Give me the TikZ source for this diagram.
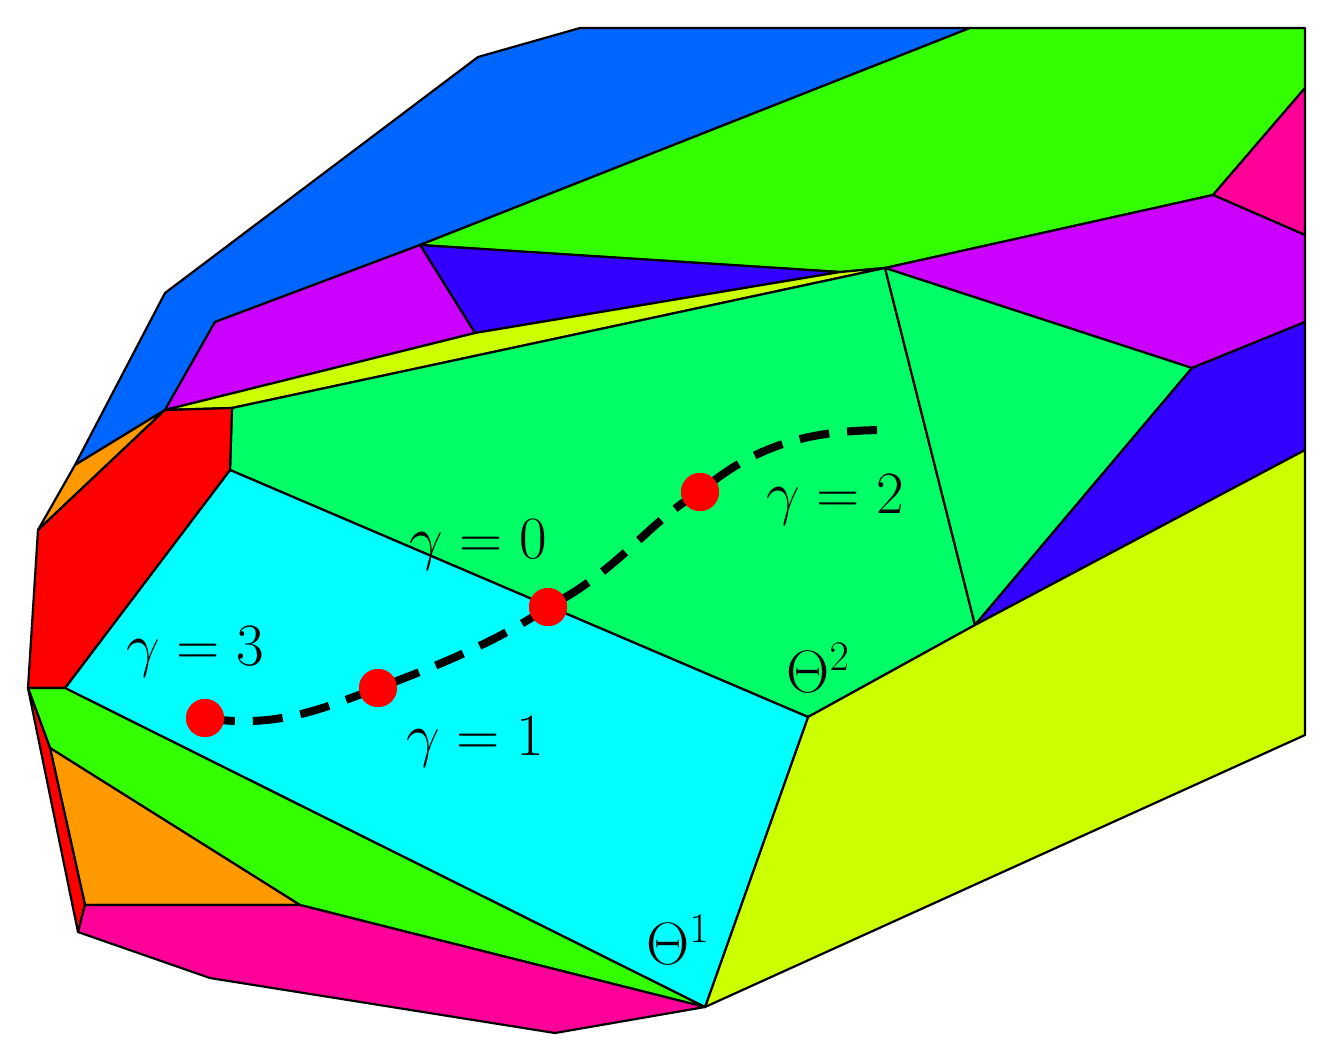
\RequirePackage{fix-cm}
\documentclass[tikz,border=0pt]{standalone}
\usepackage{amsmath}
\begin{document}
\begin{tikzpicture}[x=1pt,y=-1pt,line join=round,
  face/.style={draw=black,line width=2.2pt},
  dot/.style={circle,fill=red,inner sep=0pt,minimum size=38pt},
  lab/.style={font=\fontsize{60}{64}\selectfont,inner sep=0pt}]
\useasboundingbox (0,0) rectangle (1338,1058);
\definecolor{cblue}{HTML}{0066FF}\definecolor{cgreen}{HTML}{33FF00}
\definecolor{cpurple}{HTML}{CC00FF}\definecolor{cdblue}{HTML}{3300FF}
\definecolor{cpink}{HTML}{FF0099}\definecolor{cyel}{HTML}{CCFF00}
\definecolor{cspring}{HTML}{00FF66}\definecolor{ccyan}{HTML}{00FFFF}
\definecolor{corange}{HTML}{FF9900}\definecolor{cred}{HTML}{FF0000}
% top
\fill[cblue,face] (75,465)--(165,293)--(478,57)--(580,28)--(970,28)--(420,245)--(215,322)--(165,410)--cycle;
\fill[cgreen,face] (420,245)--(970,28)--(1305,28)--(1305,88)--(1213,195)--(885,268)--(840,272)--cycle;
\fill[cpink,face] (1213,195)--(1305,88)--(1305,235)--cycle;
\fill[cpurple,face] (885,268)--(1213,195)--(1305,235)--(1305,322)--(1192,368)--cycle;
\fill[cdblue,face] (420,245)--(840,272)--(475,333)--cycle;
\fill[cpurple,face] (215,322)--(420,245)--(475,333)--(165,410)--cycle;
\fill[cyel,face] (165,410)--(475,333)--(840,272)--(885,268)--(232,408)--cycle;
\fill[cspring,face] (232,408)--(885,268)--(975,625)--(808,717)--(230,470)--cycle;
\fill[cspring,face] (885,268)--(1192,368)--(975,625)--cycle;
\fill[cdblue,face] (1192,368)--(1305,322)--(1305,450)--(975,625)--cycle;
\fill[cyel,face] (975,625)--(1305,450)--(1305,735)--(705,1007)--(808,717)--cycle;
\fill[ccyan,face] (65,688)--(230,470)--(808,717)--(705,1007)--cycle;
\fill[corange,face] (38,530)--(75,465)--(165,410)--cycle;
\fill[cred,face] (38,530)--(165,410)--(232,408)--(230,470)--(65,688)--(28,688)--cycle;
% bottom
\fill[cgreen,face] (28,688)--(65,688)--(705,1007)--(300,905)--(50,748)--cycle;
\fill[corange,face] (50,748)--(300,905)--(85,905)--cycle;
\fill[cred,face] (28,688)--(50,748)--(85,905)--(78,932)--cycle;
\fill[cpink,face] (85,905)--(300,905)--(705,1007)--(555,1033)--(210,978)--(78,932)--cycle;
% curve
\node[dot] (g3) at (205,718) {};
\node[dot] (g1) at (378,688) {};
\node[dot] (g0) at (548,607) {};
\node[dot] (g2) at (700,492) {};
\coordinate (e) at (888,430);
\draw[line width=8pt,dash pattern=on 30pt off 18pt]
  (g3.center) .. controls (280,730) and (330,705) .. (g1.center)
  .. controls (440,665) and (500,640) .. (g0.center)
  .. controls (620,570) and (650,520) .. (g2.center)
  .. controls (760,440) and (820,430) .. (e);
\node[dot] at (g3) {};\node[dot] at (g1) {};\node[dot] at (g0) {};\node[dot] at (g2) {};
\node[lab] (l3) at (195,652) {$\gamma=3$};
\node[lab] (l0) at (478,545) {$\gamma=0$};
\node[lab] (l1) at (475,742) {$\gamma=1$};
\node[lab] (l2) at (835,500) {$\gamma=2$};
\node[lab] (t2) at (818,668) {$\Theta^2$};
\node[lab] (t1) at (678,940) {$\Theta^1$};
\end{tikzpicture}
\end{document}
